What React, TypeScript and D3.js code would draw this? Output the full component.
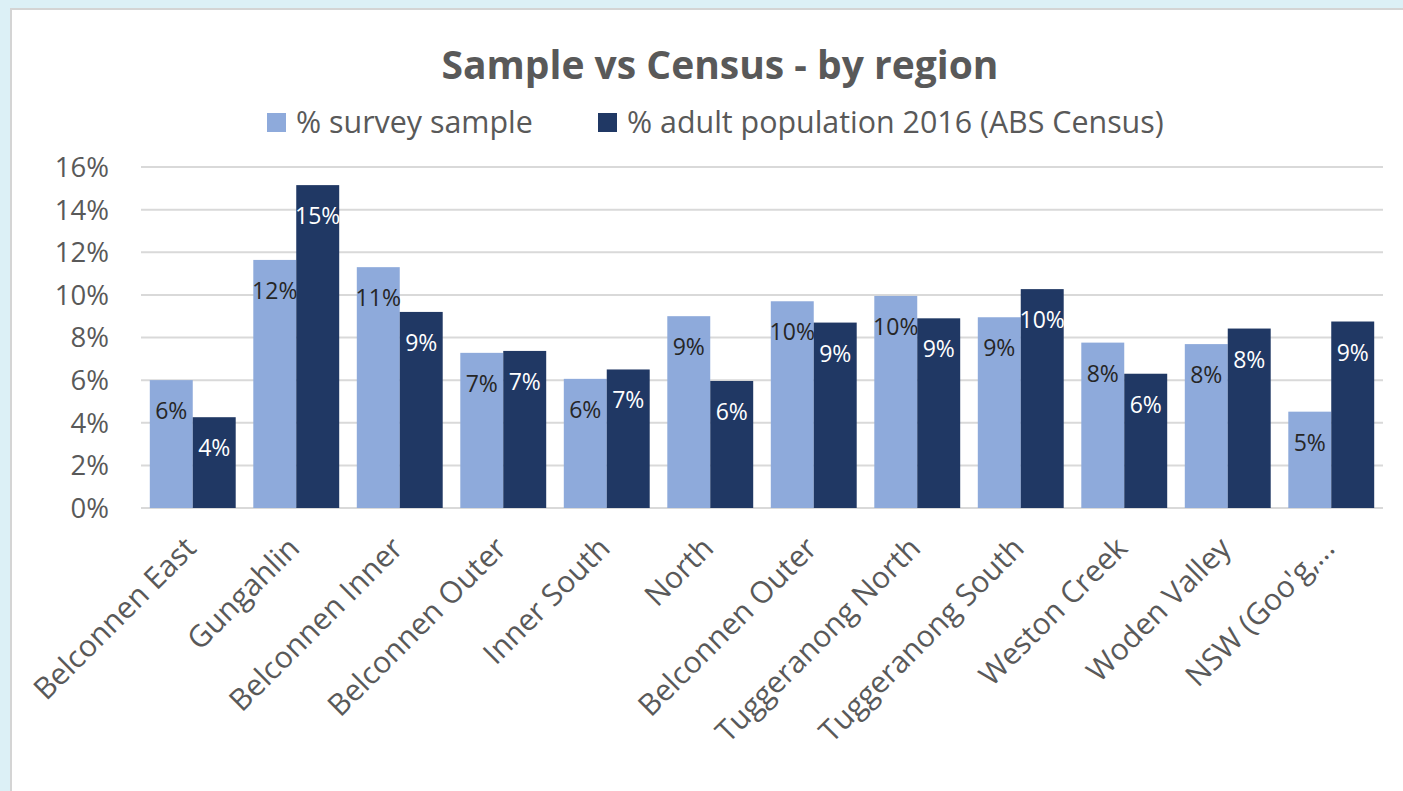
import React from "react";
import * as d3 from "d3";

const categories = [
  "Belconnen East",
  "Gungahlin",
  "Belconnen Inner",
  "Belconnen Outer",
  "Inner South",
  "North",
  "Belconnen Outer ",
  "Tuggeranong North",
  "Tuggeranong South",
  "Weston Creek",
  "Woden Valley",
  "NSW (Goo'g,...",
];
const surveySample = [6.0, 11.64, 11.3, 7.28, 6.06, 9.0, 9.7, 9.95, 8.95, 7.76, 7.69, 4.52];
const census2016 = [4.26, 15.15, 9.2, 7.37, 6.5, 5.96, 8.7, 8.9, 10.27, 6.3, 8.42, 8.75];
const seriesNames = ["% survey sample", "% adult population 2016 (ABS Census)"];
const yTicks = [0, 2, 4, 6, 8, 10, 12, 14, 16];

const W = 1403;
const H = 791;
const FONT = "'Open Sans', sans-serif";
const LIGHT = "#8eaadb";
const DARK = "#203864";
const TEXT = "#595959";

export default function App() {
  const left = 141;
  const right = 1383;
  const top = 167;
  const bottom = 508;

  const x = d3.scaleBand<string>().domain(categories).range([left, right]).paddingInner(0.17).paddingOuter(0.085);
  const sub = d3.scaleBand<number>().domain([0, 1]).range([0, x.bandwidth()]);
  const y = d3.scaleLinear().domain([0, 16]).range([bottom, top]);

  const series = [surveySample, census2016];
  const colors = [LIGHT, DARK];
  const labelColors = ["#262626", "#ffffff"];

  return (
    <svg width={W} height={H} style={{ position: "absolute", left: 0, top: 0, display: "block" }}>
      <rect x={0} y={0} width={W} height={H} fill="#dcf0f6" />
      <rect x={11} y={9} width={W + 20} height={H + 20} fill="#ffffff" stroke="#d4d4d4" strokeWidth={2} />
      <text x={720} y={79} textAnchor="middle" fontFamily={FONT} fontWeight="bold" fontSize={39} fill={TEXT}>
        Sample vs Census - by region
      </text>
      {/* legend */}
      <g fontFamily={FONT} fontSize={30.4} fill={TEXT}>
        <rect x={267} y={113} width={19} height={19} fill={LIGHT} />
        <text x={296} y={133}>{seriesNames[0]}</text>
        <rect x={598} y={113} width={19} height={19} fill={DARK} />
        <text x={627} y={133}>{seriesNames[1]}</text>
      </g>
      {/* gridlines */}
      {yTicks.map((t) => (
        <g key={t}>
          <line x1={left} x2={right} y1={y(t)} y2={y(t)} stroke="#d9d9d9" strokeWidth={2} />
          <text x={109} y={y(t)} dy="0.36em" textAnchor="end" fontFamily={FONT} fontSize={27.5} fill={TEXT}>
            {t}%
          </text>
        </g>
      ))}
      {/* bars */}
      {categories.map((c, i) => (
        <g key={c}>
          {series.map((s, k) => {
            const bx = (x(c) as number) + (sub(k) as number);
            const by = y(s[i]);
            return (
              <g key={k}>
                <rect x={bx} y={by} width={sub.bandwidth()} height={bottom - by} fill={colors[k]} />
                <text
                  x={bx + sub.bandwidth() / 2}
                  y={by + 39}
                  textAnchor="middle"
                  fontFamily={FONT}
                  fontSize={23}
                  fill={labelColors[k]}
                >
                  {Math.round(s[i])}%
                </text>
              </g>
            );
          })}
        </g>
      ))}
      {/* x labels */}
      {categories.map((c) => {
        const cx = (x(c) as number) + x.bandwidth() / 2 + 5;
        const cy = 550;
        return (
          <text
            key={c}
            x={cx}
            y={cy}
            transform={`rotate(-45 ${cx} ${cy})`}
            textAnchor="end"
            fontFamily={FONT}
            fontSize={30}
            fill={TEXT}
          >
            {c.trim()}
          </text>
        );
      })}
    </svg>
  );
}
